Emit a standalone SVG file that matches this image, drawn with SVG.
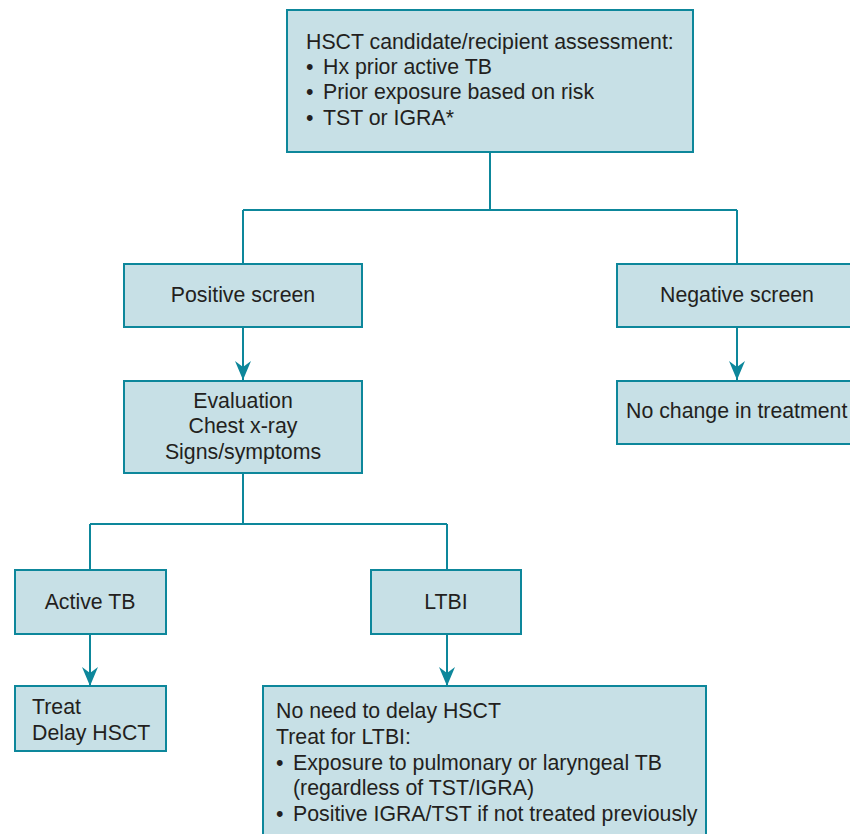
<svg xmlns="http://www.w3.org/2000/svg" width="850" height="834" viewBox="0 0 850 834">
  <style>
    .box { fill: #c7e0e6; stroke: #0d879b; stroke-width: 2; }
    .txt { font-family: "Liberation Sans", Arial, sans-serif; font-size: 21.3px; fill: #231f20; }
    .mid { text-anchor: middle; }
    .link { fill: none; stroke: #0d879b; stroke-width: 2; }
    .arrow { fill: none; stroke: #0d879b; stroke-width: 2; marker-end: url(#head); }
  </style>
  <defs>
    <!-- notched arrowhead, tip at the line end -->
    <marker id="head" markerUnits="userSpaceOnUse" markerWidth="22" markerHeight="20" viewBox="-20 -10 22 20" refX="0" refY="0" orient="auto">
      <path d="M0,0 L-19,-8 L-13,0 L-19,8 Z" fill="#0d879b"/>
    </marker>
  </defs>

  <rect width="850" height="834" fill="#ffffff"/>

  <!-- connectors -->
  <g id="connectors">
    <path class="link" d="M490,152 V210 M243,210 H737 M243,210 V264 M737,210 V264"/>
    <path class="arrow" d="M243,327 V380"/>
    <path class="arrow" d="M737,327 V380"/>
    <path class="link" d="M243,473 V524 M90,524 H447 M90,524 V570 M447,524 V570"/>
    <path class="arrow" d="M90,634 V686"/>
    <path class="arrow" d="M447,634 V686"/>
  </g>

  <g id="assessment">
    <rect class="box" x="287" y="10" width="406" height="142"/>
    <text class="txt" x="306" y="49">HSCT candidate/recipient assessment:</text>
    <text class="txt" x="306" y="74">•<tspan x="323">Hx prior active TB</tspan></text>
    <text class="txt" x="306" y="99">•<tspan x="323">Prior exposure based on risk</tspan></text>
    <text class="txt" x="306" y="125">•<tspan x="323">TST or IGRA*</tspan></text>
  </g>

  <g id="positive">
    <rect class="box" x="124" y="264" width="238" height="63"/>
    <text class="txt mid" x="243" y="302">Positive screen</text>
  </g>

  <g id="negative">
    <rect class="box" x="617" y="264" width="240" height="63"/>
    <text class="txt mid" x="737" y="302">Negative screen</text>
  </g>

  <g id="evaluation">
    <rect class="box" x="124" y="381" width="238" height="92"/>
    <text class="txt mid" x="243" y="408">Evaluation</text>
    <text class="txt mid" x="243" y="433">Chest x-ray</text>
    <text class="txt mid" x="243" y="459">Signs/symptoms</text>
  </g>

  <g id="no-change">
    <rect class="box" x="617" y="381" width="240" height="63"/>
    <text class="txt" x="626" y="418">No change in treatment</text>
  </g>

  <g id="active-tb">
    <rect class="box" x="15" y="570" width="151" height="64"/>
    <text class="txt mid" x="90" y="609">Active TB</text>
  </g>

  <g id="ltbi">
    <rect class="box" x="371" y="570" width="150" height="64"/>
    <text class="txt mid" x="446" y="609">LTBI</text>
  </g>

  <g id="treat">
    <rect class="box" x="15" y="686" width="151" height="65"/>
    <text class="txt" x="32" y="714">Treat</text>
    <text class="txt" x="32" y="740">Delay HSCT</text>
  </g>

  <g id="ltbi-plan">
    <rect class="box" x="263" y="686" width="443" height="160"/>
    <text class="txt" x="276" y="718">No need to delay HSCT</text>
    <text class="txt" x="276" y="744">Treat for LTBI:</text>
    <text class="txt" x="276" y="770">•<tspan x="293">Exposure to pulmonary or laryngeal TB</tspan></text>
    <text class="txt" x="293" y="795">(regardless of TST/IGRA)</text>
    <text class="txt" x="276" y="821">•<tspan x="293">Positive IGRA/TST if not treated previously</tspan></text>
  </g>
</svg>
